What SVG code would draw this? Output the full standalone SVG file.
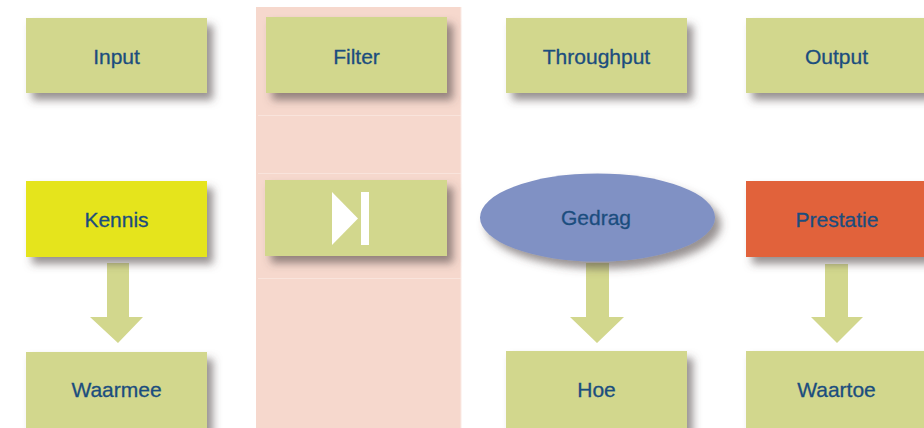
<svg xmlns="http://www.w3.org/2000/svg" width="924" height="428" viewBox="0 0 924 428">
  <defs>
    <filter id="sh" x="-10%" y="-20%" width="130%" height="160%">
      <feDropShadow dx="6" dy="7" stdDeviation="4" flood-color="#524848" flood-opacity="0.6"/>
    </filter>
  </defs>
  <style>
    .box{fill:#d2d78d;filter:url(#sh)}
    .lbl{font-family:"Liberation Sans",Arial,sans-serif;font-size:21px;fill:#1b4d7e;text-anchor:middle;stroke:#1b4d7e;stroke-width:0.3}
    .arr{fill:#d2d78d}
    .band{fill:#f6d8cd}
    .sep{stroke:#f9e4dc;stroke-width:1}
  </style>
  <rect width="924" height="428" fill="#ffffff"/>
  <g id="filter-column">
    <rect class="band" x="256" y="7" width="205" height="421"/>
    <line class="sep" x1="258" y1="115.5" x2="461" y2="115.5"/>
    <line class="sep" x1="258" y1="173.5" x2="461" y2="173.5"/>
    <line class="sep" x1="258" y1="278.5" x2="461" y2="278.5"/>
    <line x1="461" y1="7" x2="461" y2="428" stroke="#fbeae4" stroke-width="1"/>
  </g>
  <g id="connectors">
    <polygon class="arr" points="107,263 129,263 129,317 143,317 118,343 90,317 107,317"/>
    <polygon class="arr" points="586,263 609,263 609,317 624,317 597,343 570,317 586,317"/>
    <polygon class="arr" points="825,264 848,264 848,317 863,317 837,343 811,317 825,317"/>
  </g>
  <g id="input"><rect class="box" x="26" y="18" width="181" height="75"/><text class="lbl" x="116.5" y="64">Input</text></g>
  <g id="filter"><rect class="box" x="266" y="17" width="181" height="76"/><text class="lbl" x="356.5" y="64">Filter</text></g>
  <g id="throughput"><rect class="box" x="506" y="18" width="181" height="75"/><text class="lbl" x="596.5" y="64">Throughput</text></g>
  <g id="output"><rect class="box" x="746" y="18" width="181" height="75"/><text class="lbl" x="836.5" y="64">Output</text></g>
  <g id="kennis"><rect x="26" y="181" width="181" height="76" fill="#e5e41a" filter="url(#sh)"/><text class="lbl" x="116.5" y="227">Kennis</text></g>
  <g id="filter-icon">
    <rect class="box" x="265" y="180" width="182" height="76"/>
    <polygon points="332,192 358,218.5 332,245" fill="#ffffff"/>
    <rect x="361" y="192" width="8" height="53" fill="#ffffff"/>
  </g>
  <g id="gedrag"><ellipse cx="597.5" cy="217.5" rx="117.5" ry="44" fill="#8091c4" filter="url(#sh)"/><text class="lbl" x="596" y="225">Gedrag</text></g>
  <g id="prestatie"><rect x="746" y="181" width="181" height="76" fill="#e1623a" filter="url(#sh)"/><text class="lbl" x="837" y="227">Prestatie</text></g>
  <g id="waarmee"><rect class="box" x="26" y="352" width="181" height="80"/><text class="lbl" x="116.5" y="397">Waarmee</text></g>
  <g id="hoe"><rect class="box" x="506" y="351" width="181" height="81"/><text class="lbl" x="596.5" y="397">Hoe</text></g>
  <g id="waartoe"><rect class="box" x="746" y="351" width="181" height="81"/><text class="lbl" x="836.5" y="397">Waartoe</text></g>
</svg>
